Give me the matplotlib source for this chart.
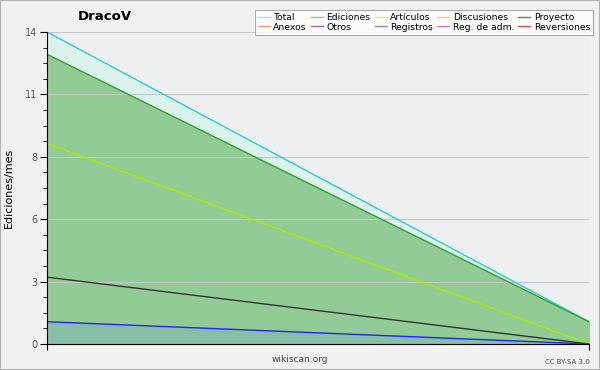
import numpy as np
import matplotlib.pyplot as plt
from matplotlib.patches import Rectangle

months = [0, 1]
total = [14, 1]
ediciones = [13, 1]
articulos = [9, 0]
proyecto = [3, 0]
registros = [1, 0]

legend_names = ["Total", "Anexos", "Ediciones", "Otros", "Artículos", "Registros",
                "Discusiones", "Reg. de adm.", "Proyecto", "Reversiones"]
legend_colors = ["#a8e4e4", "#f0a070", "#8ccc8c", "#9966cc", "#d4f080", "#8888f0",
                 "#f0d070", "#d070e0", "#777777", "#e05050"]

ymax = 14
yticks = np.linspace(0, ymax, 6)

fig = plt.figure(figsize=(6, 3.7), dpi=100, facecolor="#f1f1f1")
fig.patches.append(Rectangle((0, 0), 1, 1, transform=fig.transFigure, fill=False,
                             edgecolor="#b0b0b0", linewidth=1.5))
ax = fig.add_axes([47 / 600, 26 / 370, 542 / 600, 312 / 370])
ax.set_facecolor("#eeeff1")

ax.fill_between(months, 0, total, color="#dcf2ec", zorder=1)
ax.fill_between(months, 0, ediciones, color="#93cb97", zorder=2)
ax.fill_between(months, 0, registros, color="#86bfa5", zorder=3)

ax.plot(months, total, color="#33cccc", lw=1, zorder=5)
ax.plot(months, ediciones, color="#33a033", lw=1, zorder=5)
ax.plot(months, articulos, color="#aaee00", lw=1, zorder=5)
ax.plot(months, proyecto, color="#333333", lw=1, zorder=5)
ax.plot(months, registros, color="#2222ff", lw=1, zorder=5)

ax.set_xlim(months[0], months[-1])
ax.set_ylim(0, ymax)
ax.set_yticks(yticks)
ax.set_yticklabels([str(int(round(v))) for v in yticks])
ax.set_yticks(np.arange(0, ymax + 0.01, 0.7), minor=True)
ax.set_xticks(months)
ax.set_xticklabels([])
ax.tick_params(axis="y", which="major", length=5, labelsize=7, labelcolor="#555555", pad=2)
ax.tick_params(axis="y", which="minor", length=3)
ax.tick_params(axis="x", length=4)
ax.grid(axis="y", color="#c8c8c8", lw=0.8, zorder=0)
ax.set_axisbelow(False)
for s in ["top", "right"]:
    ax.spines[s].set_visible(False)
ax.spines["left"].set_zorder(6)
ax.spines["bottom"].set_zorder(6)

ax.set_ylabel("Ediciones/mes", fontsize=8, labelpad=8)
fig.text(105 / 600, 1 - 17 / 370, "DracoV", fontsize=9.5, fontweight="bold",
         ha="center", va="center")

handles = [plt.Line2D([], [], color=c, lw=1) for c in legend_colors]
leg = fig.legend(handles, legend_names, ncol=5, fontsize=6.7, frameon=True,
                 loc="upper right", bbox_to_anchor=(593 / 600, 1 - 10 / 370),
                 borderaxespad=0, handlelength=1.3, handletextpad=0.35,
                 columnspacing=0.45, labelspacing=0.1, borderpad=0.3, fancybox=False)
leg.get_frame().set_edgecolor("#999999")
leg.get_frame().set_linewidth(0.8)

fig.text(300 / 600, 1 - 360 / 370, "wikiscan.org", fontsize=6.5, color="#444444",
         ha="center", va="center")
fig.text(590 / 600, 1 - 362 / 370, "CC BY-SA 3.0", fontsize=5, color="#444444",
         ha="right", va="center")

fig.savefig("out.png", dpi=100, facecolor=fig.get_facecolor())
